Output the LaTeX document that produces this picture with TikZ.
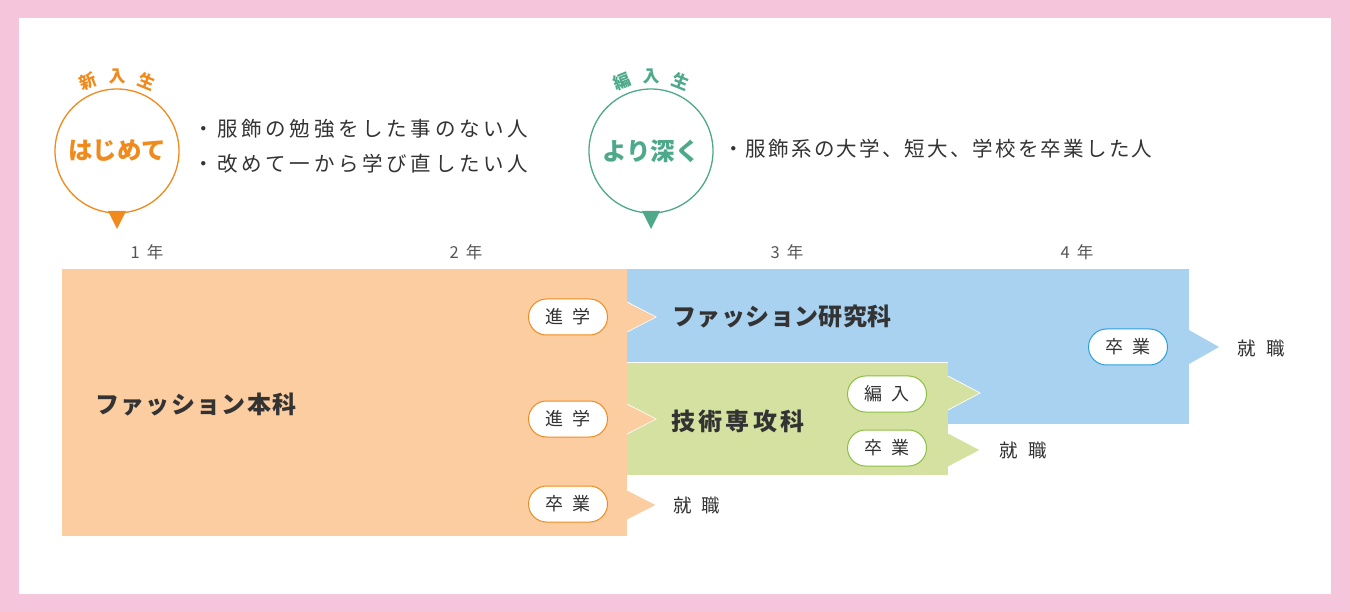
\documentclass[tikz,border=0pt]{standalone}
\usepackage{fontspec}
\setmainfont{Noto Sans CJK JP}
\definecolor{pinkbg}{HTML}{F5C5DB}
\definecolor{orangef}{HTML}{FBCDA0}
\definecolor{bluef}{HTML}{A9D2F1}
\definecolor{greenf}{HTML}{D5E1A0}
\definecolor{orangeS}{HTML}{F18A1D}
\definecolor{tealS}{HTML}{4EA98A}
\definecolor{blueS}{HTML}{2C9FDA}
\definecolor{greenS}{HTML}{8CBF3F}
\definecolor{txt}{HTML}{333333}
\definecolor{yr}{HTML}{555555}
\makeatletter
\newcommand\trk[2]{\def\trk@amt{#1}\trk@loop#2\trk@end\unkern}
\def\trk@loop#1{\ifx#1\trk@end\else#1\kern\trk@amt\relax\expandafter\trk@loop\fi}
\makeatother
\tikzset{
  pill/.style={draw=#1, fill=white, line width=1pt, rounded corners=18pt,
    minimum width=79pt, minimum height=36pt, inner sep=0pt, text=txt,
    font=\fontsize{18}{21}\selectfont},
  job/.style={text=txt, inner sep=0pt, font=\fontsize{18.5}{21}\selectfont},
  dept/.style={text=txt, inner sep=0pt, anchor=west, font=\bfseries\fontsize{24}{28}\selectfont},
  year/.style={text=yr, inner sep=0pt, font=\fontsize{16.5}{19}\selectfont},
  bullet/.style={text=txt, inner sep=0pt, anchor=west, font=\fontsize{20.5}{24}\selectfont},
  ring/.style={circle, draw=#1, line width=1.3pt, minimum size=124pt, inner sep=0pt,
    text=#1, font=\bfseries\fontsize{24.5}{28}\selectfont},
  arc/.style={text=#1, inner sep=0pt, font=\bfseries\fontsize{17}{20}\selectfont},
  notch/.style={fill=#1, draw=white, line width=0.8pt},
}
\begin{document}
\begin{tikzpicture}[x=1pt,y=-1pt]
\fill[pinkbg] (0,0) rectangle (1350,612);
\fill[white] (19,18) rectangle (1331,594);
\useasboundingbox (0,0) rectangle (1350,612);

% regions
\fill[bluef] (627,269) rectangle (1189,424);
\fill[bluef] (1189,330) -- (1219,347) -- (1189,364) -- cycle;
\fill[orangef] (62,269) rectangle (627,536);
\fill[greenf] (627,362) rectangle (948,475);
\draw[white, line width=0.8pt] (627,362) -- (948,362);
\draw[notch=greenf] (948,376) -- (980,393) -- (948,410);
\fill[greenf] (947,376.5) -- (979,393) -- (947,409.5) -- cycle;
\draw[notch=greenf] (948,433) -- (980,450) -- (948,467);
\fill[greenf] (947,433.5) -- (979,450) -- (947,466.5) -- cycle;
\foreach \y in {317,419,505}{
  \draw[notch=orangef] (627,\y-15) -- (656,\y) -- (627,\y+15);
  \fill[orangef] (626,\y-14.5) -- (655,\y) -- (626,\y+14.5) -- cycle;
}

% circles
\node[ring=orangeS] (c1) at (117,151) {はじめて};
\fill[orangeS] (108,211) -- (126,211) -- (117,229) -- cycle;
\node[arc=orangeS, rotate=22] (a1) at (88,81) {新};
\node[arc=orangeS] (a2) at (117,76) {入};
\node[arc=orangeS, rotate=-22] (a3) at (147,81) {生};

\node[ring=tealS] (c2) at (651,151) {より深く};
\fill[tealS] (642,211) -- (660,211) -- (651,229) -- cycle;
\node[arc=tealS, rotate=22] (b1) at (622,81) {編};
\node[arc=tealS] (b2) at (651,76) {入};
\node[arc=tealS, rotate=-22] (b3) at (681,81) {生};

% bullets
\node[bullet] (t1) at (193,129) {\trk{3.7pt}{・服飾の勉強をした事のない人}};
\node[bullet] (t2) at (193,164) {\trk{3.7pt}{・改めて一から学び直したい人}};
\node[bullet] (t3) at (723,149) {\trk{2.2pt}{・服飾系の大学、短大、学校を卒業した人}};

% years
\node[year] (y1) at (147,252) {1\kern7pt年};
\node[year] (y2) at (466,252) {2\kern7pt年};
\node[year] (y3) at (787,252) {3\kern7pt年};
\node[year] (y4) at (1077,252) {4\kern7pt年};

% departments
\node[dept] (d1) at (95,405) {\trk{1.3pt}{ファッション本科}};
\node[dept] (d2) at (672,317) {\trk{0.45pt}{ファッション研究科}};
\node[dept] (d3) at (671,421) {\trk{3.3pt}{技術専攻科}};

% pills
\node[pill=orangeS] (p1) at (568,317) {\trk{9pt}{進学}};
\node[pill=orangeS] (p2) at (568,419) {\trk{9pt}{進学}};
\node[pill=orangeS] (p3) at (568,504) {\trk{9pt}{卒業}};
\node[pill=greenS] (p4) at (887,394) {\trk{9pt}{編入}};
\node[pill=greenS] (p5) at (887,448) {\trk{9pt}{卒業}};
\node[pill=blueS] (p6) at (1128,347) {\trk{9pt}{卒業}};

% jobs
\node[job] (j1) at (697,505) {\trk{10pt}{就職}};
\node[job] (j2) at (1023,450) {\trk{10pt}{就職}};
\node[job] (j3) at (1261,348) {\trk{10pt}{就職}};
\end{tikzpicture}
\end{document}
